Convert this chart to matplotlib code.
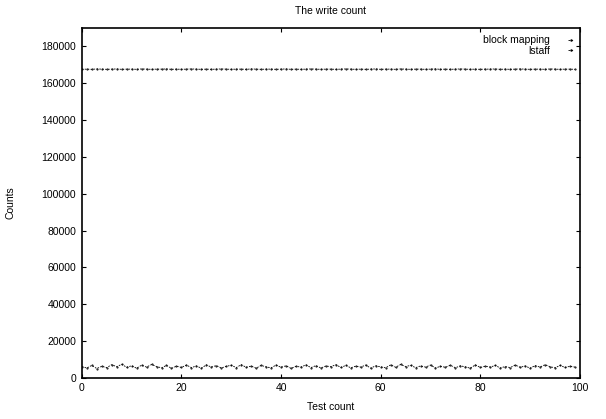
import numpy as np
import matplotlib
matplotlib.use("Agg")
import matplotlib.pyplot as plt

plt.rcParams['font.family'] = ['Liberation Sans', 'DejaVu Sans']

test_count = list(range(100))

block_mapping = [
    167600, 167700, 167600, 167800, 167700, 167600, 167700, 167800, 167600, 167700,
    167700, 167600, 167800, 167700, 167600, 167700, 167700, 167800, 167600, 167700,
    167600, 167700, 167800, 167700, 167600, 167700, 167600, 167700, 167800, 167700,
    167600, 167700, 167700, 167600, 167800, 167700, 167600, 167700, 167700, 167600,
    167700, 167800, 167600, 167700, 167600, 167700, 167800, 167700, 167600, 167700,
    167700, 167600, 167700, 167800, 167700, 167600, 167700, 167600, 167700, 167800,
    167600, 167700, 167700, 167600, 167800, 167700, 167600, 167700, 167700, 167600,
    167700, 167800, 167600, 167700, 167600, 167700, 167800, 167700, 167600, 167700,
    167600, 167700, 167700, 167800, 167600, 167700, 167600, 167700, 167800, 167700,
    167600, 167700, 167700, 167600, 167800, 167700, 167600, 167700, 167700, 167600,
]

lstaff = [
    6200, 5400, 6800, 5100, 6300, 5600, 7200, 6100, 7400, 5800,
    6600, 5300, 6900, 5900, 7300, 6200, 5500, 6800, 5200, 6400,
    5700, 7000, 5600, 6500, 5300, 7100, 5900, 6700, 5400, 6300,
    6900, 5600, 7200, 5800, 6400, 5300, 6800, 6000, 5500, 7000,
    5800, 6600, 5200, 6300, 5900, 7100, 5600, 6700, 5400, 6500,
    6100, 7200, 5700, 6800, 5500, 6400, 5900, 7000, 5300, 6600,
    6000, 5500, 7100, 5800, 7300, 6200, 6800, 5600, 6500, 5900,
    7000, 5400, 6300, 5800, 6900, 5500, 6600, 6000, 5300, 7100,
    5700, 6400, 5900, 6800, 5400, 6200, 5600, 7000, 5800, 6500,
    5300, 6700, 5900, 7200, 6100, 5500, 6800, 5700, 6300, 5900,
]

x_ticks = [0, 20, 40, 60, 80, 100]
y_ticks = [0, 20000, 40000, 60000, 80000, 100000, 120000, 140000, 160000, 180000]

fig = plt.figure(figsize=(6.06, 4.19), dpi=100)
ax = fig.add_axes([0.135, 0.098, 0.822, 0.835])

ax.plot(test_count, block_mapping, color='black', linestyle=(0, (2, 1.5)), linewidth=0.6,
        marker='.', markersize=1.0, label='block mapping')
ax.plot(test_count, lstaff, color='black', linestyle=(0, (2, 1.5)), linewidth=0.6,
        marker='.', markersize=1.0, label='lstaff')

ax.set_xlim(0, 100)
ax.set_ylim(0, 190000)
ax.set_xticks(x_ticks)
ax.set_yticks(y_ticks)
ax.tick_params(direction='in', top=True, right=True, length=3, width=0.8,
               labelsize=7.5, pad=4)
for s in ax.spines.values():
    s.set_linewidth(1.2)

ax.set_title('The write count', fontsize=7.5, pad=10)
ax.set_xlabel('Test count', fontsize=7.5, labelpad=6)
ax.set_ylabel('Counts', fontsize=7.5, labelpad=19)

ax.legend(loc='upper right', frameon=False, markerfirst=False, fontsize=7.5,
          handlelength=0.4, handletextpad=1.8, labelspacing=0.05,
          borderaxespad=0.3, markerscale=1.5)

fig.savefig('out.png', dpi=100)
